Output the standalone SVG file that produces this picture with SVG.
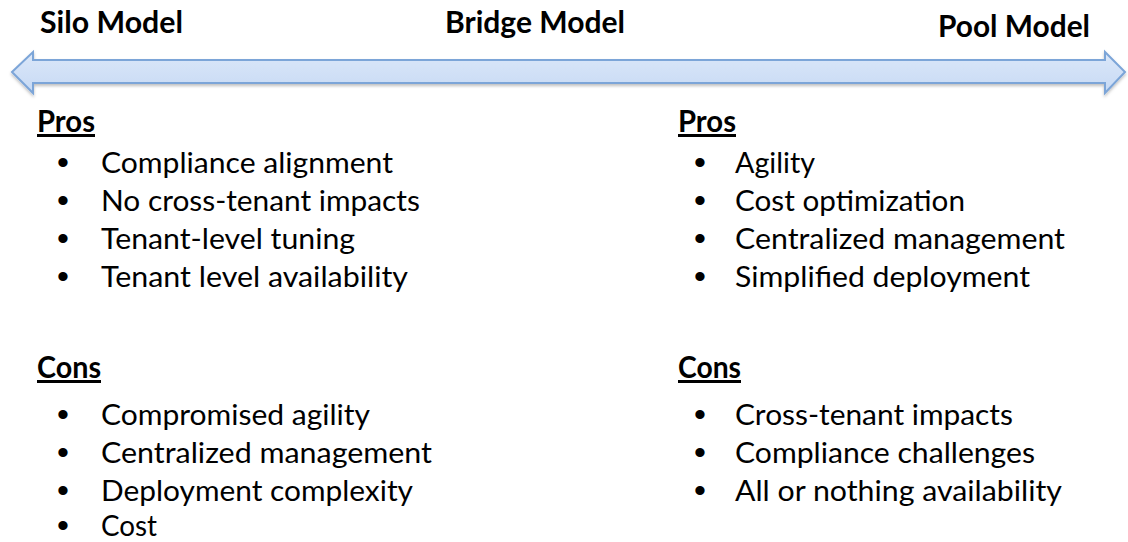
<svg xmlns="http://www.w3.org/2000/svg" width="1128" height="542" viewBox="0 0 1128 542">
<style>
.t{font-family:Lato,"Open Sans","Liberation Sans",sans-serif;font-size:29px;fill:#000}
.h{font-family:Lato,"Open Sans","Liberation Sans",sans-serif;font-size:30px;font-weight:bold;fill:#000}
.u{text-decoration:underline}
.b{font-family:"Liberation Sans",sans-serif;font-size:34px;fill:#000;text-anchor:middle}
</style>
<defs>
<linearGradient id="g" x1="0" y1="0" x2="0" y2="1">
<stop offset="0" stop-color="#dbe7f9"/>
<stop offset="1" stop-color="#c7daf4"/>
</linearGradient>
<filter id="sh" x="-5%" y="-50%" width="110%" height="200%">
<feDropShadow dx="0" dy="2" stdDeviation="1.5" flood-color="#000" flood-opacity="0.25"/>
</filter>
</defs>
<g id="titles">
<text class="h" x="40" y="33" textLength="143" lengthAdjust="spacingAndGlyphs">Silo Model</text>
<text class="h" x="445" y="33" textLength="180" lengthAdjust="spacingAndGlyphs">Bridge Model</text>
<text class="h" x="938" y="37" textLength="152" lengthAdjust="spacingAndGlyphs">Pool Model</text>
</g>
<g id="connectors">
<path d="M12,72 L33,52 L33,60 L1105,60 L1105,52 L1125,72 L1105,93 L1105,83 L33,83 L33,93 Z" fill="url(#g)" stroke="#7ca5d8" stroke-width="2" stroke-linejoin="miter" filter="url(#sh)"/>
</g>
<g id="silo-pros">
<text class="h u" x="37" y="132" textLength="58" lengthAdjust="spacingAndGlyphs">Pros</text>
<text class="b" x="63" y="174">•</text><text class="t" x="101" y="173" textLength="292" lengthAdjust="spacingAndGlyphs">Compliance alignment</text>
<text class="b" x="63" y="212">•</text><text class="t" x="101" y="211" textLength="319" lengthAdjust="spacingAndGlyphs">No cross-tenant impacts</text>
<text class="b" x="63" y="250">•</text><text class="t" x="101" y="249" textLength="254" lengthAdjust="spacingAndGlyphs">Tenant-level tuning</text>
<text class="b" x="63" y="288">•</text><text class="t" x="101" y="287" textLength="307" lengthAdjust="spacingAndGlyphs">Tenant level availability</text>
</g>
<g id="silo-cons">
<text class="h u" x="37" y="378" textLength="64" lengthAdjust="spacingAndGlyphs">Cons</text>
<text class="b" x="63" y="426">•</text><text class="t" x="101" y="425" textLength="269" lengthAdjust="spacingAndGlyphs">Compromised agility</text>
<text class="b" x="63" y="464">•</text><text class="t" x="101" y="463" textLength="331" lengthAdjust="spacingAndGlyphs">Centralized management</text>
<text class="b" x="63" y="502">•</text><text class="t" x="101" y="501" textLength="312" lengthAdjust="spacingAndGlyphs">Deployment complexity</text>
<text class="b" x="63" y="537">•</text><text class="t" x="101" y="536" textLength="56" lengthAdjust="spacingAndGlyphs">Cost</text>
</g>
<g id="pool-pros">
<text class="h u" x="678" y="132" textLength="58" lengthAdjust="spacingAndGlyphs">Pros</text>
<text class="b" x="700" y="174">•</text><text class="t" x="735" y="173" textLength="80" lengthAdjust="spacingAndGlyphs">Agility</text>
<text class="b" x="700" y="212">•</text><text class="t" x="735" y="211" textLength="230" lengthAdjust="spacingAndGlyphs">Cost optimization</text>
<text class="b" x="700" y="250">•</text><text class="t" x="735" y="249" textLength="330" lengthAdjust="spacingAndGlyphs">Centralized management</text>
<text class="b" x="700" y="288">•</text><text class="t" x="735" y="287" textLength="295" lengthAdjust="spacingAndGlyphs">Simplified deployment</text>
</g>
<g id="pool-cons">
<text class="h u" x="678" y="378" textLength="63" lengthAdjust="spacingAndGlyphs">Cons</text>
<text class="b" x="700" y="426">•</text><text class="t" x="735" y="425" textLength="278" lengthAdjust="spacingAndGlyphs">Cross-tenant impacts</text>
<text class="b" x="700" y="464">•</text><text class="t" x="735" y="463" textLength="300" lengthAdjust="spacingAndGlyphs">Compliance challenges</text>
<text class="b" x="700" y="502">•</text><text class="t" x="735" y="501" textLength="327" lengthAdjust="spacingAndGlyphs">All or nothing availability</text>
</g>
</svg>
